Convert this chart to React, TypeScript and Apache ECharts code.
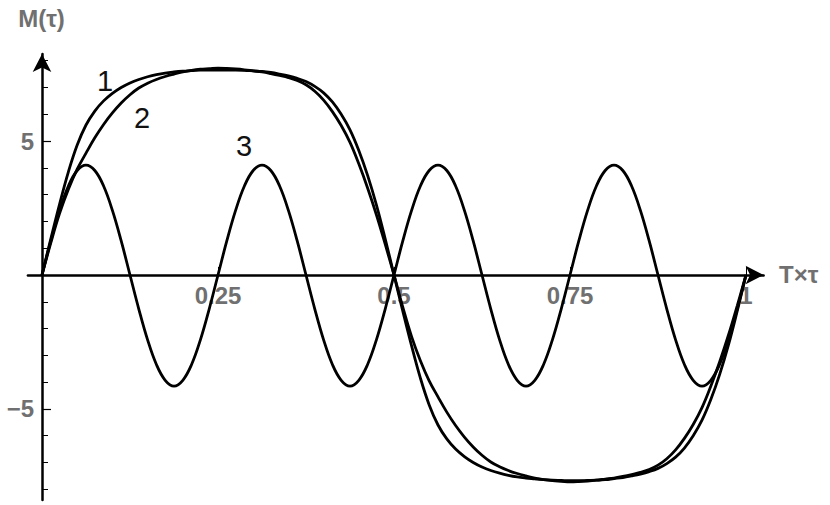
import { useEffect, useRef } from 'react';
import * as echarts from 'echarts';

// sample positions along T×τ
const tau = [
  0, 0.0125, 0.025, 0.0375, 0.05, 0.0625, 0.075, 0.0875, 0.1, 0.1125,
  0.125, 0.1375, 0.15, 0.1625, 0.175, 0.1875, 0.2, 0.2125, 0.225, 0.2375,
  0.25, 0.2625, 0.275, 0.2875, 0.3, 0.3125, 0.325, 0.3375, 0.35, 0.3625,
  0.375, 0.3875, 0.4, 0.4125, 0.425, 0.4375, 0.45, 0.4625, 0.475, 0.4875,
  0.5, 0.5125, 0.525, 0.5375, 0.55, 0.5625, 0.575, 0.5875, 0.6, 0.6125,
  0.625, 0.6375, 0.65, 0.6625, 0.675, 0.6875, 0.7, 0.7125, 0.725, 0.7375,
  0.75, 0.7625, 0.775, 0.7875, 0.8, 0.8125, 0.825, 0.8375, 0.85, 0.8625,
  0.875, 0.8875, 0.9, 0.9125, 0.925, 0.9375, 0.95, 0.9625, 0.975, 0.9875,
  1,
];

// curve 1 (squarest)
const curve1 = [
  0, 1.35, 2.65, 3.85, 4.85, 5.6, 6.12, 6.5, 6.78, 7.0,
  7.17, 7.3, 7.4, 7.48, 7.54, 7.58, 7.61, 7.63, 7.65, 7.65,
  7.65, 7.65, 7.65, 7.64, 7.62, 7.6, 7.56, 7.5, 7.43, 7.34,
  7.22, 7.04, 6.8, 6.46, 6.0, 5.42, 4.65, 3.72, 2.62, 1.35,
  0, -1.35, -2.65, -3.85, -4.85, -5.6, -6.12, -6.5, -6.78, -7.0,
  -7.17, -7.3, -7.4, -7.48, -7.54, -7.58, -7.61, -7.64, -7.66, -7.67,
  -7.68, -7.68, -7.67, -7.66, -7.64, -7.6, -7.56, -7.5, -7.43, -7.34,
  -7.22, -7.04, -6.8, -6.46, -6.0, -5.42, -4.65, -3.72, -2.62, -1.35,
  0,
];

// curve 2
const curve2 = [
  0, 1.2, 2.3, 3.2, 3.95, 4.55, 5.12, 5.62, 6.05, 6.42,
  6.73, 6.98, 7.16, 7.3, 7.41, 7.5, 7.58, 7.64, 7.68, 7.7,
  7.72, 7.71, 7.69, 7.66, 7.62, 7.58, 7.52, 7.45, 7.37, 7.26,
  7.1, 6.86, 6.53, 6.1, 5.58, 4.95, 4.15, 3.25, 2.25, 1.15,
  0, -1.2, -2.3, -3.2, -3.95, -4.55, -5.12, -5.62, -6.05, -6.42,
  -6.73, -6.98, -7.16, -7.3, -7.41, -7.5, -7.58, -7.64, -7.68, -7.7,
  -7.72, -7.71, -7.69, -7.66, -7.62, -7.58, -7.52, -7.45, -7.37, -7.26,
  -7.1, -6.86, -6.53, -6.1, -5.58, -4.95, -4.15, -3.25, -2.25, -1.15,
  0,
];

// curve 3 (four oscillations)
const curve3 = [
  0, 1.27, 2.41, 3.32, 3.9, 4.1, 3.9, 3.32, 2.41, 1.27,
  0, -1.27, -2.42, -3.34, -3.93, -4.15, -3.93, -3.34, -2.42, -1.27,
  0, 1.27, 2.41, 3.32, 3.9, 4.1, 3.9, 3.32, 2.41, 1.27,
  0, -1.27, -2.42, -3.34, -3.93, -4.15, -3.93, -3.34, -2.42, -1.27,
  0, 1.27, 2.41, 3.32, 3.9, 4.1, 3.9, 3.32, 2.41, 1.27,
  0, -1.27, -2.42, -3.34, -3.93, -4.15, -3.93, -3.34, -2.42, -1.27,
  0, 1.27, 2.41, 3.32, 3.9, 4.1, 3.9, 3.32, 2.41, 1.27,
  0, -1.27, -2.42, -3.34, -3.93, -4.15, -3.93, -3.34, -2.42, -1.27,
  0,
];

const xTicks = [0.25, 0.5, 0.75, 1];
const yMinorTicks = [-8, -7, -6, -5, -4, -3, -2, -1, 1, 2, 3, 4, 5, 6, 7, 8];
const yMajorTicks = [-5, 5];
const curveNames = ['1', '2', '3'];

const FONT = '"Liberation Sans", Arial, sans-serif';
const GRAY = '#707070';

const Y_MIN = -8.4;
const Y_MAX = 8.25;

export default function App() {
  const chartRef = useRef<HTMLDivElement>(null);

  useEffect(() => {
    if (!chartRef.current) return;
    const chart = echarts.init(chartRef.current, undefined, { renderer: 'svg' });

    const toPoints = (vals: number[]) => tau.map((t, i) => [t, vals[i]]);
    const lineSeries = [curve1, curve2, curve3].map((vals, i) => ({
      name: curveNames[i],
      type: 'line' as const,
      data: toPoints(vals),
      smooth: 0.4,
      showSymbol: false,
      lineStyle: { color: '#000', width: 2.8 },
      yAxisIndex: 0,
    }));

    const gridTop = 54;
    const gridHeight = 446;
    // shift the x axis up from the grid bottom to the zero level
    const xOffset = -(gridHeight * (0 - Y_MIN)) / (Y_MAX - Y_MIN);
    const yOffset = -14.08; // puts both y axes on τ = 0

    chart.setOption({
      animation: false,
      grid: {
        left: 27.92,
        top: gridTop,
        width: 735.68,
        height: gridHeight,
        containLabel: false,
        outerBoundsMode: 'none',
      },
      xAxis: {
        type: 'value',
        position: 'bottom',
        offset: xOffset,
        min: -0.02,
        max: 1.025,
        axisLine: {
          show: true,
          onZero: false,
          lineStyle: { color: '#000', width: 2.5 },
          symbol: ['none', 'arrow'],
          symbolSize: [14, 18],
        },
        axisTick: {
          show: true,
          inside: true,
          length: 8,
          customValues: xTicks,
          lineStyle: { color: '#000', width: 1 },
        },
        axisLabel: {
          customValues: xTicks,
          margin: 9,
          color: GRAY,
          fontSize: 24,
          fontWeight: 'bold',
          fontFamily: FONT,
          formatter: (v: number) => String(v),
        },
        splitLine: { show: false },
      },
      yAxis: [
        {
          type: 'value',
          position: 'left',
          min: Y_MIN,
          max: Y_MAX,
          offset: yOffset,
          axisLine: {
            show: true,
            onZero: false,
            lineStyle: { color: '#000', width: 2.5 },
            symbol: ['none', 'arrow'],
            symbolSize: [14, 18],
          },
          axisTick: {
            show: true,
            inside: true,
            length: 6,
            customValues: yMinorTicks,
            lineStyle: { color: '#000', width: 1 },
          },
          axisLabel: { show: false },
          splitLine: { show: false },
        },
        {
          type: 'value',
          position: 'left',
          min: Y_MIN,
          max: Y_MAX,
          offset: yOffset,
          axisLine: { show: false, onZero: false },
          axisTick: {
            show: true,
            inside: true,
            length: 9,
            customValues: yMajorTicks,
            lineStyle: { color: '#000', width: 1.2 },
          },
          axisLabel: {
            customValues: yMajorTicks,
            margin: 8,
            color: GRAY,
            fontSize: 24,
            fontWeight: 'bold',
            fontFamily: FONT,
            formatter: (v: number) => (v < 0 ? '\u2212' + Math.abs(v) : String(v)),
          },
          splitLine: { show: false },
        },
      ],
      graphic: [
        {
          type: 'text',
          x: 41.5,
          y: 18,
          style: {
            text: 'M(τ)',
            fill: GRAY,
            font: `bold 24px ${FONT}`,
            textAlign: 'center',
            textVerticalAlign: 'middle',
          },
        },
        {
          type: 'text',
          x: 779,
          y: 274,
          style: {
            text: 'T×τ',
            fill: GRAY,
            font: `bold 24px ${FONT}`,
            textAlign: 'left',
            textVerticalAlign: 'middle',
          },
        },
        {
          type: 'text',
          x: 105,
          y: 81,
          style: { text: curveNames[0], fill: '#111', font: `29px ${FONT}`, textAlign: 'center', textVerticalAlign: 'middle' },
        },
        {
          type: 'text',
          x: 142,
          y: 118,
          style: { text: curveNames[1], fill: '#111', font: `29px ${FONT}`, textAlign: 'center', textVerticalAlign: 'middle' },
        },
        {
          type: 'text',
          x: 244,
          y: 146,
          style: { text: curveNames[2], fill: '#111', font: `29px ${FONT}`, textAlign: 'center', textVerticalAlign: 'middle' },
        },
      ],
      series: lineSeries,
    });

    return () => {
      chart.dispose();
    };
  }, []);

  return (
    <div
      ref={chartRef}
      style={{ position: 'fixed', left: 0, top: 0, width: 830, height: 505, background: '#fff' }}
    />
  );
}
